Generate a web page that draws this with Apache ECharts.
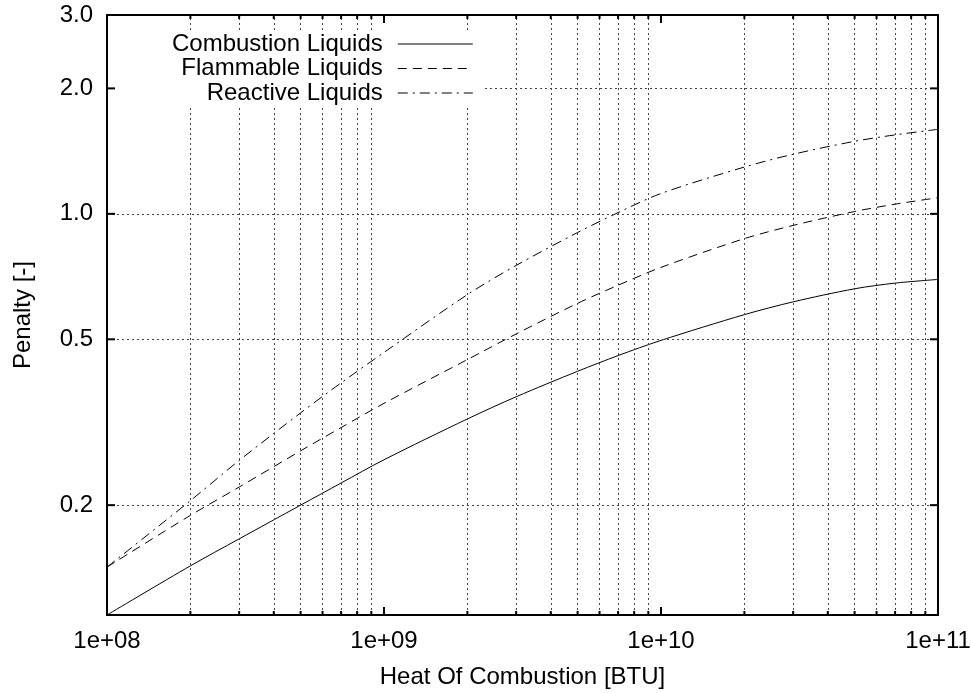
<!DOCTYPE html>
<html><head><meta charset="utf-8">
<script src="https://cdn.jsdelivr.net/npm/echarts@6/dist/echarts.min.js"></script>
<style>html,body{margin:0;padding:0;background:#fff}#c{width:971px;height:693px}</style>
</head><body><div id="c"></div>
<script>
// ---- data ----
const heatBTU     = [1e8, 2e8, 3e8, 5e8, 7e8, 1e9, 2e9, 3e9, 5e9, 7e9, 1e10, 2e10, 3e10, 5e10, 7e10, 1e11];
const combustion  = [0.109, 0.143, 0.166, 0.200, 0.226, 0.257, 0.322, 0.364, 0.419, 0.457, 0.497, 0.573, 0.615, 0.661, 0.682, 0.696];
const flammable   = [0.142, 0.189, 0.221, 0.270, 0.307, 0.351, 0.447, 0.515, 0.610, 0.674, 0.744, 0.872, 0.938, 1.013, 1.055, 1.093];
const reactive    = [0.142, 0.205, 0.256, 0.333, 0.393, 0.465, 0.640, 0.752, 0.902, 1.007, 1.119, 1.295, 1.390, 1.493, 1.547, 1.595];
const seriesNames = ['Combustion Liquids', 'Flammable Liquids', 'Reactive Liquids'];

const xMajorTicks = [1e8, 1e9, 1e10, 1e11];
const xTickLabels = ['1e+08', '1e+09', '1e+10', '1e+11'];
const xMinorTicks = [2e8,3e8,4e8,5e8,6e8,7e8,8e8,9e8, 2e9,3e9,4e9,5e9,6e9,7e9,8e9,9e9, 2e10,3e10,4e10,5e10,6e10,7e10,8e10,9e10];
const yTickValues = [0.2, 0.5, 1.0, 2.0, 3.0];
const yTickLabels = ['0.2', '0.5', '1.0', '2.0', '3.0'];
const xMin = 1e8, xMax = 1e11, yMin = 0.109, yMax = 3.0;

// ---- styling / layout ----
const FONT = '"Liberation Sans", Arial, Helvetica, sans-serif';
const FS = 24;
const KEY_BOX = { top: 31, bottom: 107, right: 485 };   // opaque key area (pixels)
const gridLine = { color: '#444', width: 1, type: [2, 3] };
const dashes = ['solid', [9, 6], [10, 5, 2, 5]];
const pairs = arr => heatBTU.map((x, i) => [x, arr[i]]);

function xLabel(v) {
  for (let i = 0; i < xMajorTicks.length; i++) {
    if (Math.abs(Math.log10(v) - Math.log10(xMajorTicks[i])) < 1e-6) return xTickLabels[i];
  }
  return '';
}

const chart = echarts.init(document.getElementById('c'), null, { renderer: 'canvas' });
const baseSeries = (name, arr, k) => ({
  name, type: 'line', data: pairs(arr), symbol: 'none', smooth: 0.3,
  lineStyle: { color: '#000', width: 1, type: dashes[k] },
  itemStyle: { color: '#000' },
  silent: true, animation: false, z: 3
});
const s0 = baseSeries(seriesNames[0], combustion, 0);
s0.markLine = {
  silent: true, symbol: ['none', 'none'], animation: false, clip: false,
  lineStyle: gridLine,
  label: { show: true, position: 'start', formatter: p => p.name, color: '#000', fontSize: FS, fontFamily: FONT, distance: 14 },
  emphasis: { disabled: true },
  data: []
};

chart.setOption({
  animation: false,
  backgroundColor: '#fff',
  textStyle: { fontFamily: FONT, color: '#000' },
  grid: { left: 107, right: 33, top: 15, bottom: 78, show: true, borderColor: '#000', borderWidth: 2, backgroundColor: 'transparent', containLabel: false, outerBoundsMode: 'none' },
  legend: {
    data: seriesNames.map((n, k) => ({ name: n, lineStyle: { type: dashes[k], width: 1, color: '#000' } })),
    orient: 'vertical', align: 'right', left: 115, top: 31, padding: [1, 10, 3, 57],
    itemWidth: 75, itemHeight: 14, itemGap: 0.5, backgroundColor: '#fff',
    itemStyle: { opacity: 0 },
    textStyle: { fontSize: FS, color: '#000', fontFamily: FONT, padding: [0, 10, 0, 0], lineHeight: 24 },
    selectedMode: false, z: 20
  },
  xAxis: {
    type: 'log', logBase: 10, min: xMin, max: xMax,
    axisLine: { show: false }, axisTick: { show: false }, splitLine: { show: false },
    axisLabel: { formatter: xLabel, color: '#000', fontSize: FS, fontFamily: FONT, margin: 14 },
    name: 'Heat Of Combustion [BTU]', nameLocation: 'middle', nameGap: 50,
    nameTextStyle: { fontSize: FS, color: '#000', fontFamily: FONT }
  },
  yAxis: {
    type: 'log', logBase: 10, min: yMin, max: yMax,
    axisLine: { show: false }, axisTick: { show: false }, splitLine: { show: false }, axisLabel: { show: false },
    name: 'Penalty [-]', nameLocation: 'middle', nameGap: 72,
    nameTextStyle: { fontSize: FS, color: '#000', fontFamily: FONT }
  },
  series: [s0, baseSeries(seriesNames[1], flammable, 1), baseSeries(seriesNames[2], reactive, 2)]
});

// ---- positions from the axes' own scales ----
const px = v => chart.convertToPixel({ xAxisIndex: 0 }, v);
const py = v => chart.convertToPixel({ yAxisIndex: 0 }, v);
const X0 = px(xMin), X1 = px(xMax), Y0 = py(yMin), Y1 = py(yMax);
const xKeyEdge = chart.convertFromPixel({ xAxisIndex: 0 }, KEY_BOX.right);

// horizontal grid lines: those crossing the key start right of the key box; labels drawn separately for those
const gridData = [];
yTickValues.forEach((v, i) => {
  const y = py(v);
  if (v === yMax) {
    gridData.push({ yAxis: v, name: yTickLabels[i], lineStyle: { color: 'rgba(0,0,0,0)' } });
  } else if (y >= KEY_BOX.top && y <= KEY_BOX.bottom) {
    gridData.push({ yAxis: v, name: yTickLabels[i], lineStyle: { color: 'rgba(0,0,0,0)' } });
    gridData.push([{ coord: [xKeyEdge, v], label: { show: false } }, { coord: [xMax, v] }]);
  } else {
    gridData.push({ yAxis: v, name: yTickLabels[i] });
  }
});
xMinorTicks.forEach(v => gridData.push({ xAxis: v, label: { show: false } }));

const elements = [];
const seg = (x1, y1, x2, y2) => elements.push({ type: 'line', silent: true, z: 100, shape: { x1, y1, x2, y2 }, style: { stroke: '#000', lineWidth: 2 } });
xMajorTicks.forEach(v => { const x = px(v); seg(x, Y0, x, Y0 - 8); seg(x, Y1, x, Y1 + 8); });
xMinorTicks.forEach(v => { const x = px(v); seg(x, Y0, x, Y0 - 4); seg(x, Y1, x, Y1 + 4); });
yTickValues.forEach(v => { const y = py(v); seg(X0, y, X0 + 8, y); seg(X1, y, X1 - 8, y); });

chart.setOption({
  series: [{ markLine: { data: gridData } }],
  graphic: { elements }
});
</script></body></html>
